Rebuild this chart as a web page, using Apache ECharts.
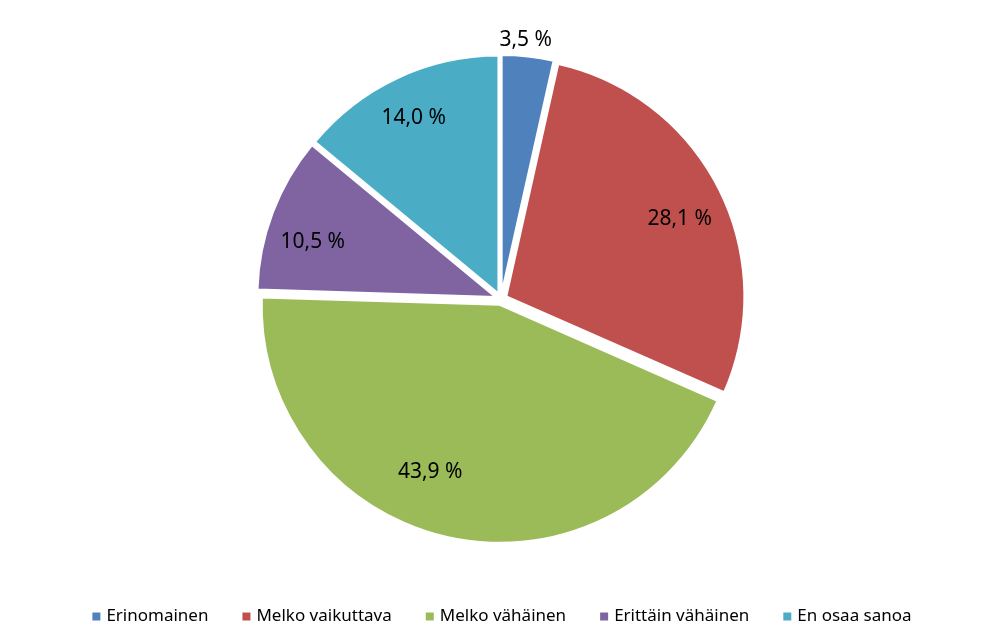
<!DOCTYPE html>
<html>
<head>
<meta charset="utf-8">
<script src="https://cdn.jsdelivr.net/npm/echarts@6/dist/echarts.min.js"></script>
<style>
html,body{margin:0;padding:0;background:#fff;}
#chart{width:1002px;height:643px;}
</style>
</head>
<body>
<div id="chart"></div>
<script>
var categories = ['Erinomainen', 'Melko vaikuttava', 'Melko vähäinen', 'Erittäin vähäinen', 'En osaa sanoa'];
var values = [3.5, 28.1, 43.9, 10.5, 14.0];
var colors = ['#4F81BD', '#C0504D', '#9BBB59', '#8064A2', '#4BACC6'];
// label nudges relative to the library's inside position (Excel "best fit" look)
var labelNudgeX = [3, 2, -27, -3, -3];
var labelNudgeY = [-62, 9, -20, 13, -2];

var FONT = "'Noto Sans', sans-serif";

function fmt(v) { return v.toFixed(1).replace('.', ',') + ' %'; }

var pieData = categories.map(function (c, i) {
  return { name: c, value: values[i], selected: true, itemStyle: { color: colors[i] } };
});
var labelData = categories.map(function (c, i) {
  return { name: c, value: values[i] };
});

var chart = echarts.init(document.getElementById('chart'), null, { renderer: 'canvas' });
chart.setOption({
  backgroundColor: '#ffffff',
  animation: false,
  color: colors,
  legend: {
    data: categories,
    left: 'center',
    top: 603,
    itemWidth: 10,
    itemHeight: 10,
    itemGap: 32,
    icon: 'rect',
    selectedMode: false,
    textStyle: { fontFamily: FONT, fontSize: 17, color: '#000' }
  },
  series: [
    {
      type: 'pie',
      center: [501, 299],
      radius: [0, 238],
      startAngle: 90,
      clockwise: true,
      selectedMode: 'multiple',
      selectedOffset: 6,
      silent: true,
      label: { show: false },
      labelLine: { show: false },
      itemStyle: { borderColor: '#ffffff', borderWidth: 2 },
      emphasis: { disabled: true },
      data: pieData
    },
    {
      type: 'pie',
      center: [501, 299],
      radius: [140, 250],
      startAngle: 90,
      clockwise: true,
      silent: true,
      itemStyle: { color: 'rgba(0,0,0,0)' },
      emphasis: { disabled: true },
      legendHoverLink: false,
      label: {
        show: true,
        position: 'inside',
        color: '#000',
        fontFamily: FONT,
        fontSize: 21,
        formatter: function (p) { return fmt(p.value); }
      },
      labelLine: { show: false },
      labelLayout: function (p) {
        return { dx: labelNudgeX[p.dataIndex], dy: labelNudgeY[p.dataIndex] };
      },
      data: labelData
    }
  ]
});
</script>
</body>
</html>
